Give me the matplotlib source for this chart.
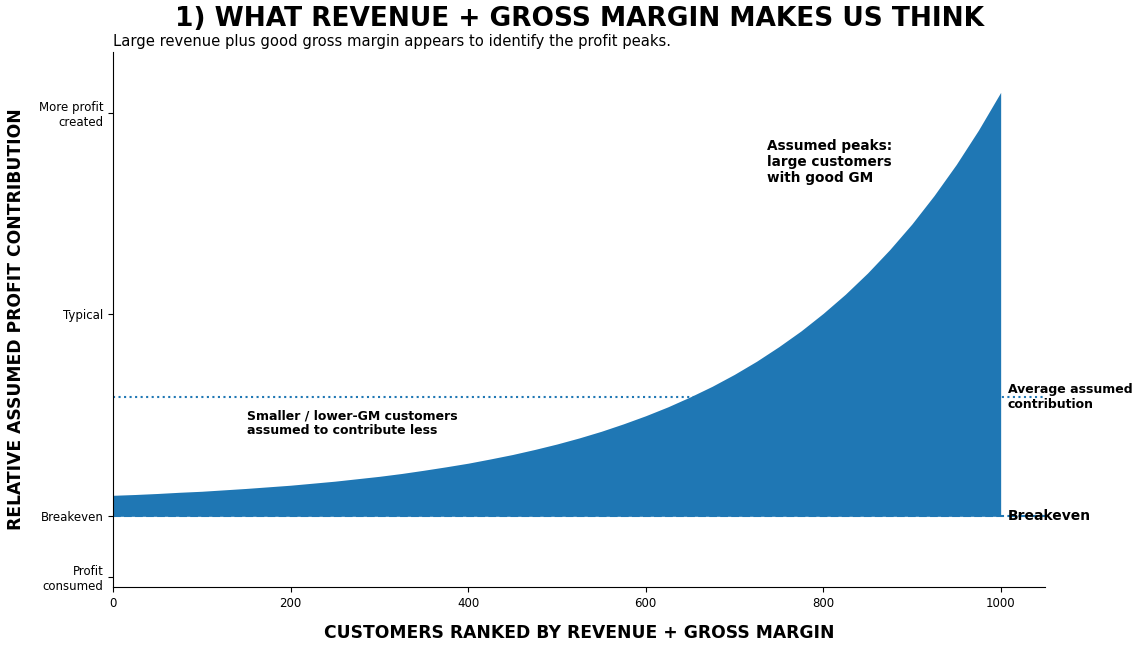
import matplotlib.pyplot as plt

customers = [0, 25, 50, 75, 100, 125, 150, 175, 200, 225, 250, 275, 300, 325, 350, 375, 400,
             425, 450, 475, 500, 525, 550, 575, 600, 625, 650, 675, 700, 725, 750, 775, 800,
             825, 850, 875, 900, 925, 950, 975, 1000]
contribution = [0.104, 0.108, 0.113, 0.119, 0.124, 0.131, 0.138, 0.146, 0.154, 0.164, 0.174,
                0.186, 0.198, 0.212, 0.228, 0.245, 0.263, 0.284, 0.306, 0.331, 0.358, 0.388,
                0.421, 0.458, 0.498, 0.542, 0.591, 0.644, 0.703, 0.768, 0.840, 0.918, 1.005,
                1.100, 1.205, 1.321, 1.448, 1.589, 1.743, 1.913, 2.100]
average_contribution = 0.589

ytick_values = [-0.3, 0, 1, 2]
ytick_labels = ["Profit\nconsumed", "Breakeven", "Typical", "More profit\ncreated"]
xtick_values = [0, 200, 400, 600, 800, 1000]

fig, ax = plt.subplots(figsize=(11.45, 6.5), dpi=100)
fig.subplots_adjust(left=0.0987, right=0.9127, bottom=0.097, top=0.92)

ax.fill_between(customers, 0, contribution, color='C0', linewidth=0)
ax.axhline(0, color='C0', linestyle='--', linewidth=1.5)
ax.axhline(average_contribution, color='C0', linestyle=':', linewidth=1.5)

ax.set_xlim(0, 1050)
ax.set_ylim(-0.35, 2.3)
ax.set_xticks(xtick_values)
ax.set_yticks(ytick_values)
ax.set_yticklabels(ytick_labels)
ax.tick_params(labelsize=8.5)

ax.spines['top'].set_visible(False)
ax.spines['right'].set_visible(False)

# annotations
ax.text(737, 1.87, "Assumed peaks:\nlarge customers\nwith good GM",
        fontsize=9.8, fontweight='bold', va='top', ha='left')
ax.text(151, 0.53, "Smaller / lower-GM customers\nassumed to contribute less",
        fontsize=9, fontweight='bold', va='top', ha='left')
ax.text(1008, average_contribution, "Average assumed\ncontribution",
        fontsize=9, fontweight='bold', va='center', ha='left')
ax.text(1008, 0, "Breakeven", fontsize=10, fontweight='bold', va='center', ha='left')

ax.set_xlabel("CUSTOMERS RANKED BY REVENUE + GROSS MARGIN", fontsize=12.3, fontweight='bold', labelpad=10)
ax.set_ylabel("RELATIVE ASSUMED PROFIT CONTRIBUTION", fontsize=12.3, fontweight='bold', labelpad=10)

ax.set_title("Large revenue plus good gross margin appears to identify the profit peaks.",
             loc='left', fontsize=10.6, pad=4)
fig.text(0.506, 0.97, "1) WHAT REVENUE + GROSS MARGIN MAKES US THINK",
         fontsize=19, fontweight='bold', ha='center', va='center')

plt.savefig('out.png', dpi=100)
